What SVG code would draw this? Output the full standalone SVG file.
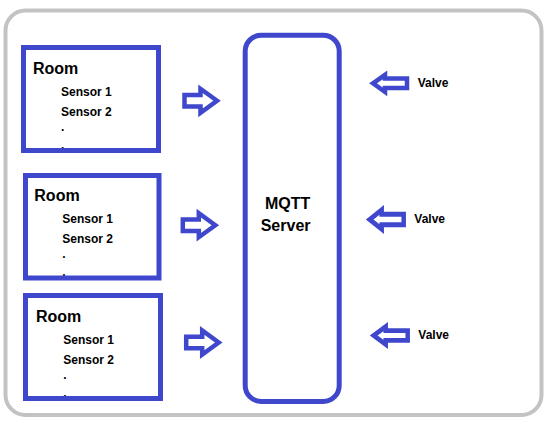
<svg xmlns="http://www.w3.org/2000/svg" width="548" height="424" viewBox="0 0 548 424">
<style>
.box{fill:none;stroke:#3F48CC;stroke-width:5}
.arr{fill:#fff;stroke:#3F48CC;stroke-width:4.5;stroke-linejoin:miter}
text{font-family:"Liberation Sans",Arial,sans-serif;font-weight:bold;fill:#000}
.h{font-size:16px}
.s{font-size:12px}
</style>
<defs>
<path id="ra" d="M-35.5,-5.8 L-19.5,-5.8 L-19.5,-12 L-3,0 L-19.5,12 L-19.5,5.8 L-35.5,5.8 Z"/>
<path id="la" d="M3,0 L15,-8.5 L15,-4.7 L37,-4.7 L37,4.7 L15,4.7 L15,8.5 Z"/>
</defs>
<rect x="5.5" y="10.5" width="536" height="404.5" rx="20" fill="#fff" stroke="#C3C3C3" stroke-width="4"/>
<g id="room1">
<text class="h" x="33" y="74">Room</text>
<text class="s" x="61" y="95.7">Sensor 1</text>
<text class="s" x="61" y="115.7">Sensor 2</text>
<text class="s" x="61" y="130.5">.</text>
<text class="s" x="61" y="148.5">.</text>
<rect class="box" x="23.5" y="47.5" width="135" height="103"/>
</g>
<g id="room2">
<text class="h" x="34.3" y="200.7">Room</text>
<text class="s" x="62.3" y="223.3">Sensor 1</text>
<text class="s" x="62.3" y="243.3">Sensor 2</text>
<text class="s" x="62.3" y="258.3">.</text>
<text class="s" x="62.3" y="276">.</text>
<rect class="box" x="25.5" y="175.5" width="133.5" height="102.5"/>
</g>
<g id="room3">
<text class="h" x="36" y="321.7">Room</text>
<text class="s" x="63.3" y="344.3">Sensor 1</text>
<text class="s" x="63.3" y="364">Sensor 2</text>
<text class="s" x="63.3" y="379.3">.</text>
<text class="s" x="63.3" y="396.7">.</text>
<rect class="box" x="25.5" y="295.5" width="135" height="103"/>
</g>
<g id="mqtt">
<rect class="box" x="245.2" y="35.2" width="94" height="366.3" rx="16"/>
<text class="h" x="265" y="209">MQTT</text>
<text class="h" x="260.7" y="231">Server</text>
</g>
<g id="valve1"><text class="s" x="417.7" y="86.7">Valve</text></g>
<g id="valve2"><text class="s" x="414.3" y="223.3">Valve</text></g>
<g id="valve3"><text class="s" x="418.3" y="339.3">Valve</text></g>
<g id="connectors">
<use href="#ra" class="arr" transform="translate(220,100.8)"/>
<use href="#ra" class="arr" transform="translate(218.3,225.2)"/>
<use href="#ra" class="arr" transform="translate(221.7,342.5)"/>
<use href="#la" class="arr" transform="translate(370,83.3)"/>
<use href="#la" class="arr" transform="translate(366.7,219.5) scale(1,1.12)"/>
<use href="#la" class="arr" transform="translate(370.7,335.5) scale(1,1.05)"/>
</g>
</svg>
